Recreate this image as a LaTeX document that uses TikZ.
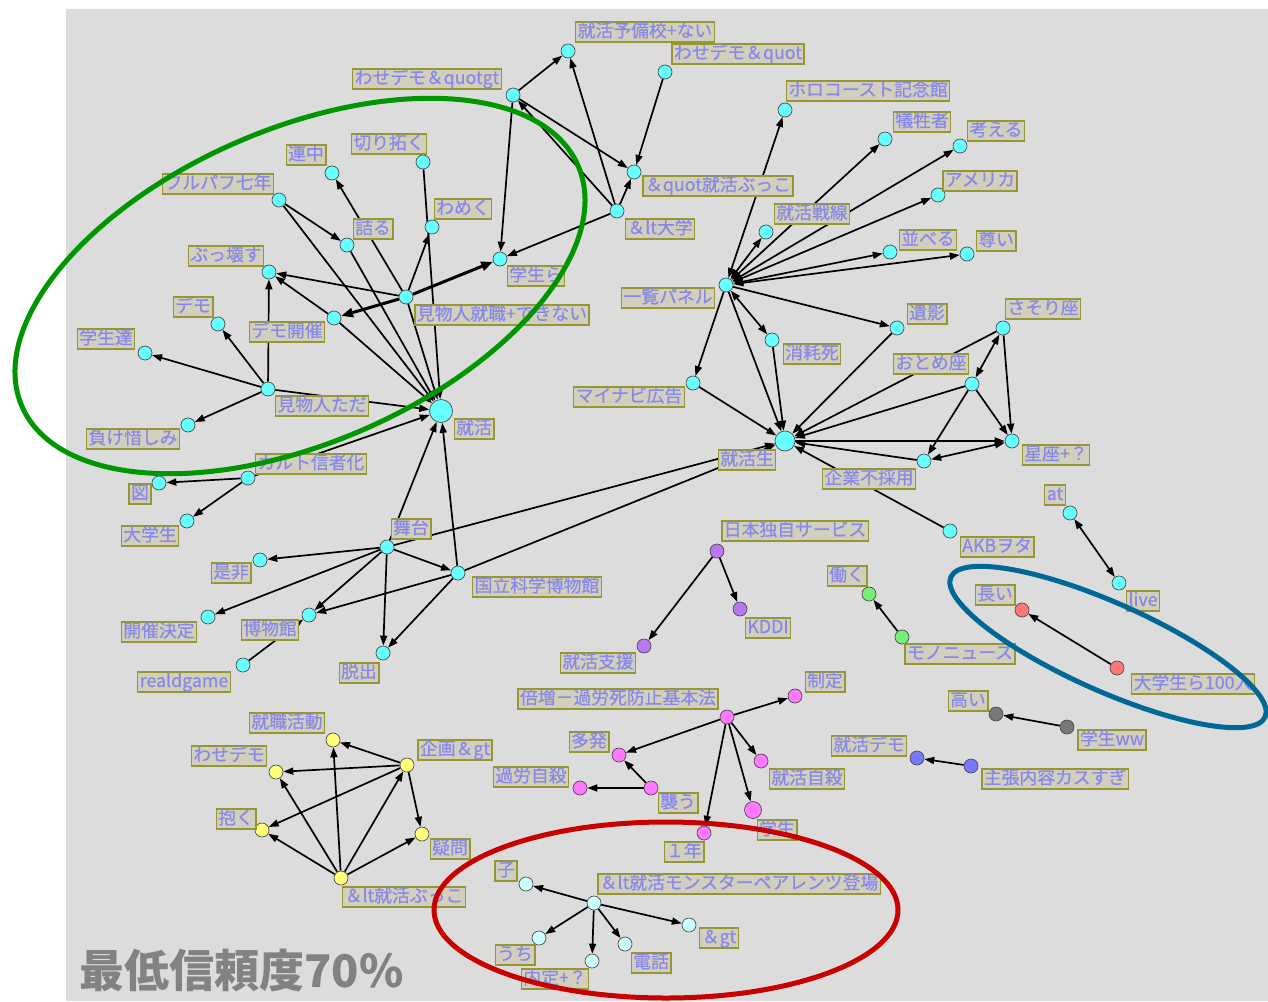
\documentclass[tikz,border=0pt]{standalone}
\usepackage{fontspec}
\setmainfont{Noto Sans CJK JP}
\newfontfamily\lblfont{Noto Sans CJK JP}[FakeBold=0.5]
\usetikzlibrary{arrows.meta}
\definecolor{bggray}{RGB}{220,220,220}
\definecolor{lblfill}{RGB}{210,207,190}
\definecolor{lblborder}{RGB}{150,150,50}
\definecolor{lbltext}{RGB}{136,136,232}
\definecolor{ncyan}{RGB}{102,255,255}
\definecolor{nlcyan}{RGB}{204,255,255}
\definecolor{npurple}{RGB}{185,120,240}
\definecolor{ngreen}{RGB}{120,240,120}
\definecolor{npink}{RGB}{255,120,120}
\definecolor{ngray}{RGB}{120,120,120}
\definecolor{nblue}{RGB}{120,120,255}
\definecolor{nmag}{RGB}{255,120,255}
\definecolor{nyel}{RGB}{255,255,120}
\definecolor{elgreen}{RGB}{0,150,0}
\definecolor{elblue}{RGB}{0,104,150}
\definecolor{elred}{RGB}{200,0,0}
\definecolor{titlegray}{RGB}{130,130,130}
\pgfdeclarelayer{bg}\pgfdeclarelayer{edges}\pgfdeclarelayer{front}
\pgfsetlayers{bg,edges,main,front}
\tikzset{
  nd/.style={circle, draw=black!70, line width=0.7pt, minimum size=14pt, inner sep=0pt},
  cy/.style={nd, fill=ncyan},
  lc/.style={nd, fill=nlcyan},
  pu/.style={nd, fill=npurple},
  gr/.style={nd, fill=ngreen},
  pk/.style={nd, fill=npink},
  gy/.style={nd, fill=ngray},
  bl/.style={nd, fill=nblue},
  mg/.style={nd, fill=nmag},
  ye/.style={nd, fill=nyel},
  lbl/.style={draw=lblborder, line width=1.4pt, fill=lblfill, text=lbltext,
    font=\lblfont\fontsize{17.8}{18}\selectfont, inner xsep=2pt, inner ysep=1.5pt,
    text height=13.5pt, text depth=3.5pt},
  ar/.style={line width=1.7pt, -{Triangle[length=10pt,width=7pt]}},
  bar/.style={line width=1.7pt, {Triangle[length=10pt,width=7pt]}-{Triangle[length=10pt,width=7pt]}},
  thk/.style={line width=3pt, -{Triangle[length=12pt,width=9pt]}},
  ell/.style={line width=5pt}
}
\begin{document}
\begin{tikzpicture}[x=1pt,y=-1pt]
\useasboundingbox (0,0) rectangle (1268,1001);
\begin{pgfonlayer}{bg}
\fill[white] (0,0) rectangle (1268,1001);
\fill[bggray] (66,9) rectangle (1268,1001);
\end{pgfonlayer}

% ---- nodes: cyan
\node[cy] (wqgt) at (513,95) {};
\node[cy] (yobiko) at (568,51) {};
\node[cy] (wq) at (665,72) {};
\node[cy] (qbukko) at (634,172) {};
\node[cy] (ltdai) at (617,211) {};
\node[cy] (gakra) at (500,259) {};
\node[cy] (kiri) at (423,162) {};
\node[cy] (renchu) at (332,173) {};
\node[cy] (fulpaf) at (279,200) {};
\node[cy] (tsume) at (347,245) {};
\node[cy] (wameku) at (432,227) {};
\node[cy] (bukko) at (269,272) {};
\node[cy] (kshu) at (406,297) {};
\node[cy] (demok) at (334,318) {};
\node[cy] (demo) at (218,324) {};
\node[cy] (gtachi) at (145,353) {};
\node[cy] (ktada) at (268,389) {};
\node[cy] (make) at (188,425) {};
\node[cy, minimum size=23pt] (shukatsu) at (441,411) {};
\node[cy] (cult) at (248,478) {};
\node[cy] (zu) at (159,483) {};
\node[cy] (daigaku) at (187,521) {};
\node[cy] (butai) at (387,547) {};
\node[cy] (zehi) at (260,560) {};
\node[cy] (koku) at (458,573) {};
\node[cy] (kaisai) at (208,617) {};
\node[cy] (haku) at (309,615) {};
\node[cy] (real) at (243,665) {};
\node[cy] (dassh) at (383,653) {};
\node[cy] (holo) at (785,110) {};
\node[cy] (gisei) at (885,139) {};
\node[cy] (kangae) at (960,146) {};
\node[cy] (amer) at (938,195) {};
\node[cy] (sensen) at (766,232) {};
\node[cy] (narab) at (890,252) {};
\node[cy] (toutoi) at (967,254) {};
\node[cy] (ichiran) at (726,285) {};
\node[cy] (ieei) at (897,328) {};
\node[cy] (shomo) at (772,340) {};
\node[cy] (sasori) at (1003,328) {};
\node[cy] (otome) at (972,384) {};
\node[cy] (mynavi) at (693,383) {};
\node[cy, minimum size=20pt] (shusei) at (785,441) {};
\node[cy] (seiza) at (1012,441) {};
\node[cy] (kigyo) at (924,461) {};
\node[cy] (akb) at (950,531) {};
\node[cy] (at) at (1070,513) {};
\node[cy] (live) at (1119,583) {};
% other colours
\node[pu] (nihon) at (717,551) {};
\node[pu] (kddi) at (740,609) {};
\node[pu] (shien) at (644,646) {};
\node[gr] (hataraku) at (869,594) {};
\node[gr] (mono) at (902,637) {};
\node[pk] (nagai) at (1022,610) {};
\node[pk] (d100) at (1117,668) {};
\node[gy] (takai) at (996,714) {};
\node[gy] (gww) at (1067,727) {};
\node[bl] (sdemo) at (917,758) {};
\node[bl] (shucho) at (971,766) {};
\node[mg] (baizou) at (727,717) {};
\node[mg] (seitei) at (795,696) {};
\node[mg] (tahatsu) at (619,755) {};
\node[mg] (karou) at (580,788) {};
\node[mg] (osou) at (651,788) {};
\node[mg] (sjisatsu) at (761,761) {};
\node[mg, minimum size=17pt] (gakusei) at (753,810) {};
\node[mg] (ichinen) at (704,833) {};
\node[ye] (shukatsudo) at (333,740) {};
\node[ye] (kikaku) at (407,765) {};
\node[ye] (wasedemo) at (276,772) {};
\node[ye] (daku) at (262,830) {};
\node[ye] (gimon) at (422,834) {};
\node[ye] (ltbukko) at (341,878) {};
\node[lc] (monster) at (594,903) {};
\node[lc] (ko) at (526,884) {};
\node[lc] (gt) at (689,925) {};
\node[lc] (uchi) at (539,938) {};
\node[lc] (naitei) at (592,961) {};
\node[lc] (denwa) at (625,944) {};

% ---- labels
\node[lbl] (l-wqgt) at (427,79) {わせデモ＆quotgt};
\node[lbl] (l-yobiko) at (645,32) {就活予備校+ない};
\node[lbl] (l-wq) at (738,54) {わせデモ＆quot};
\node[lbl] (l-qbukko) at (718,186) {＆quot就活ぶっこ};
\node[lbl] (l-ltdai) at (660,229) {＆lt大学};
\node[lbl] (l-gakra) at (536,276) {学生ら};
\node[lbl] (l-kiri) at (389,144) {切り拓く};
\node[lbl] (l-renchu) at (306,155) {連中};
\node[lbl] (l-fulpaf) at (218,184) {フルパフ七年};
\node[lbl] (l-tsume) at (373,229) {詰る};
\node[lbl] (l-wameku) at (463,209) {わめく};
\node[lbl] (l-bukko) at (226,256) {ぶっ壊す};
\node[lbl] (l-kshu) at (502,315) {見物人就職+できない};
\node[lbl] (l-demok) at (287,332) {デモ開催};
\node[lbl] (l-demo) at (193,307) {デモ};
\node[lbl] (l-gtachi) at (106,339) {学生達};
\node[lbl] (l-ktada) at (322,406) {見物人ただ};
\node[lbl] (l-make) at (133,439) {負け惜しみ};
\node[lbl] (l-shukatsu) at (474,429) {就活};
\node[lbl] (l-cult) at (311,464) {カルト信者化};
\node[lbl] (l-zu) at (140,494) {図};
\node[lbl] (l-daigaku) at (150,536) {大学生};
\node[lbl] (l-butai) at (411,529) {舞台};
\node[lbl] (l-zehi) at (231,573) {是非};
\node[lbl] (l-koku) at (537,587) {国立科学博物館};
\node[lbl] (l-kaisai) at (159,632) {開催決定};
\node[lbl] (l-haku) at (270,630) {博物館};
\node[lbl] (l-real) at (184,682) {realdgame};
\node[lbl] (l-dassh) at (359,673) {脱出};
\node[lbl] (l-holo) at (868,91) {ホロコースト記念館};
\node[lbl] (l-gisei) at (922,122) {犠牲者};
\node[lbl] (l-kangae) at (996,131) {考える};
\node[lbl] (l-amer) at (980,181) {アメリカ};
\node[lbl] (l-sensen) at (812,214) {就活戦線};
\node[lbl] (l-narab) at (928,240) {並べる};
\node[lbl] (l-toutoi) at (996,241) {尊い};
\node[lbl] (l-ichiran) at (668,298) {一覧パネル};
\node[lbl] (l-ieei) at (927,314) {遺影};
\node[lbl] (l-shomo) at (812,354) {消耗死};
\node[lbl] (l-sasori) at (1043,309) {さそり座};
\node[lbl] (l-otome) at (931,364) {おとめ座};
\node[lbl] (l-mynavi) at (629,397) {マイナビ広告};
\node[lbl] (l-shusei) at (747,460) {就活生};
\node[lbl] (l-seiza) at (1056,455) {星座+？};
\node[lbl] (l-kigyo) at (869,479) {企業不採用};
\node[lbl] (l-akb) at (997,547) {AKBヲタ};
\node[lbl] (l-at) at (1055,495) {at};
\node[lbl] (l-live) at (1143,601) {live};
\node[lbl] (l-nihon) at (795,531) {日本独自サービス};
\node[lbl] (l-kddi) at (768,628) {KDDI};
\node[lbl] (l-shien) at (598,663) {就活支援};
\node[lbl] (l-hataraku) at (847,576) {働く};
\node[lbl] (l-mono) at (960,654) {モノニュース};
\node[lbl] (l-nagai) at (995,595) {長い};
\node[lbl] (l-d100) at (1193,684) {大学生ら100人};
\node[lbl] (l-takai) at (968,701) {高い};
\node[lbl] (l-gww) at (1112,740) {学生ww};
\node[lbl] (l-sdemo) at (869,746) {就活デモ};
\node[lbl] (l-shucho) at (1055,779) {主張内容カスすぎ};
\node[lbl] (l-baizou) at (618,699) {倍増－過労死防止基本法};
\node[lbl] (l-seitei) at (825,682) {制定};
\node[lbl] (l-tahatsu) at (589,742) {多発};
\node[lbl] (l-karou) at (531,777) {過労自殺};
\node[lbl] (l-osou) at (678,803) {襲う};
\node[lbl] (l-sjisatsu) at (807,779) {就活自殺};
\node[lbl] (l-gakusei) at (777,830) {学生};
\node[lbl] (l-ichinen) at (684,852) {１年};
\node[lbl] (l-shukatsudo) at (287,723) {就職活動};
\node[lbl] (l-kikaku) at (455,750) {企画＆gt};
\node[lbl] (l-wasedemo) at (229,756) {わせデモ};
\node[lbl] (l-daku) at (236,819) {抱く};
\node[lbl] (l-gimon) at (450,849) {疑問};
\node[lbl] (l-ltbukko) at (404,897) {＆lt就活ぶっこ};
\node[lbl] (l-monster) at (739,884) {＆lt就活モンスターペアレンツ登場};
\node[lbl] (l-ko) at (506,871) {子};
\node[lbl] (l-gt) at (719,938) {＆gt};
\node[lbl] (l-uchi) at (515,955) {うち};
\node[lbl] (l-naitei) at (555,979) {内定+？};
\node[lbl] (l-denwa) at (651,963) {電話};

\node[anchor=west, text=titlegray, font=\fontsize{45}{45}\selectfont\bfseries, inner sep=0pt] (title) at (79,970) {最低信頼度70\%};

% ---- edges
\begin{pgfonlayer}{edges}
\draw[ar] (wqgt) -- (yobiko);
\draw[ar] (ltdai) -- (yobiko);
\draw[ar] (wq) -- (qbukko);
\draw[ar] (wqgt) -- (qbukko);
\draw[ar] (ltdai) -- (wqgt);
\draw[ar] (ltdai) -- (qbukko);
\draw[ar] (wqgt) -- (gakra);
\draw[ar] (ltdai) -- (gakra);
\draw[thk] (kshu) -- (gakra);
\draw[thk] (kshu) -- (demok);
\draw[ar] (kshu) -- (bukko);
\draw[ar] (demok) -- (bukko);
\draw[ar] (ktada) -- (bukko);
\draw[ar] (kshu) -- (wameku);
\draw[ar] (kshu) -- (renchu);
\draw[ar] (fulpaf) -- (tsume);
\draw[ar] (fulpaf) -- (shukatsu);
\draw[ar] (tsume) -- (shukatsu);
\draw[ar] (kiri) -- (shukatsu);
\draw[ar] (kshu) -- (shukatsu);
\draw[ar] (demok) -- (shukatsu);
\draw[ar] (ktada) -- (shukatsu);
\draw[ar] (ktada) -- (demo);
\draw[ar] (ktada) -- (gtachi);
\draw[ar] (ktada) -- (make);
\draw[ar] (cult) -- (shukatsu);
\draw[ar] (cult) -- (zu);
\draw[ar] (cult) -- (daigaku);
\draw[ar] (butai) -- (shukatsu);
\draw[ar] (koku) -- (shukatsu);
\draw[ar] (butai) -- (zehi);
\draw[ar] (butai) -- (kaisai);
\draw[ar] (butai) -- (haku);
\draw[ar] (butai) -- (dassh);
\draw[ar] (butai) -- (koku);
\draw[ar] (koku) -- (haku);
\draw[ar] (koku) -- (dassh);
\draw[ar] (real) -- (haku);
\draw[ar] (butai) -- (shusei);
\draw[ar] (koku) -- (shusei);
% right cluster
\draw[bar] (ichiran) -- (holo);
\draw[bar] (ichiran) -- (gisei);
\draw[bar] (ichiran) -- (kangae);
\draw[bar] (ichiran) -- (amer);
\draw[bar] (ichiran) -- (sensen);
\draw[bar] (ichiran) -- (narab);
\draw[bar] (ichiran) -- (toutoi);
\draw[ar] (ichiran) -- (ieei);
\draw[bar] (ichiran) -- (shomo);
\draw[ar] (ichiran) -- (mynavi);
\draw[ar] (ichiran) -- (shusei);
\draw[ar] (shomo) -- (shusei);
\draw[ar] (mynavi) -- (shusei);
\draw[ar] (ieei) -- (shusei);
\draw[ar] (otome) -- (shusei);
\draw[ar] (sasori) -- (shusei);
\draw[ar] (shusei) -- (seiza);
\draw[ar] (kigyo) -- (shusei);
\draw[ar] (akb) -- (shusei);
\draw[bar] (sasori) -- (otome);
\draw[ar] (sasori) -- (seiza);
\draw[ar] (otome) -- (seiza);
\draw[ar] (otome) -- (kigyo);
\draw[bar] (kigyo) -- (seiza);
\draw[bar] (at) -- (live);
% small groups
\draw[ar] (nihon) -- (kddi);
\draw[ar] (nihon) -- (shien);
\draw[ar] (mono) -- (hataraku);
\draw[ar] (d100) -- (nagai);
\draw[ar] (gww) -- (takai);
\draw[ar] (shucho) -- (sdemo);
% magenta
\draw[ar] (baizou) -- (seitei);
\draw[ar] (baizou) -- (tahatsu);
\draw[ar] (baizou) -- (sjisatsu);
\draw[ar] (baizou) -- (gakusei);
\draw[ar] (baizou) -- (ichinen);
\draw[ar] (osou) -- (tahatsu);
\draw[ar] (osou) -- (karou);
% yellow
\draw[ar] (kikaku) -- (shukatsudo);
\draw[ar] (kikaku) -- (wasedemo);
\draw[ar] (kikaku) -- (daku);
\draw[ar] (kikaku) -- (gimon);
\draw[ar] (ltbukko) -- (daku);
\draw[ar] (ltbukko) -- (wasedemo);
\draw[ar] (ltbukko) -- (shukatsudo);
\draw[ar] (ltbukko) -- (kikaku);
\draw[ar] (ltbukko) -- (gimon);
% light cyan
\draw[ar] (monster) -- (ko);
\draw[ar] (monster) -- (gt);
\draw[ar] (monster) -- (uchi);
\draw[ar] (monster) -- (naitei);
\draw[ar] (monster) -- (denwa);
\end{pgfonlayer}

% ---- ellipses
\begin{pgfonlayer}{front}
\draw[ell, elgreen, rotate around={23.4:(300,286)}] (300,286) ellipse [x radius=303pt, y radius=157pt];
\draw[ell, elblue, rotate around={-24:(1108,647)}] (1108,647) ellipse [x radius=172pt, y radius=44pt];
\draw[ell, elred] (666,910) ellipse [x radius=232pt, y radius=88pt];
\end{pgfonlayer}
\end{tikzpicture}
\end{document}
